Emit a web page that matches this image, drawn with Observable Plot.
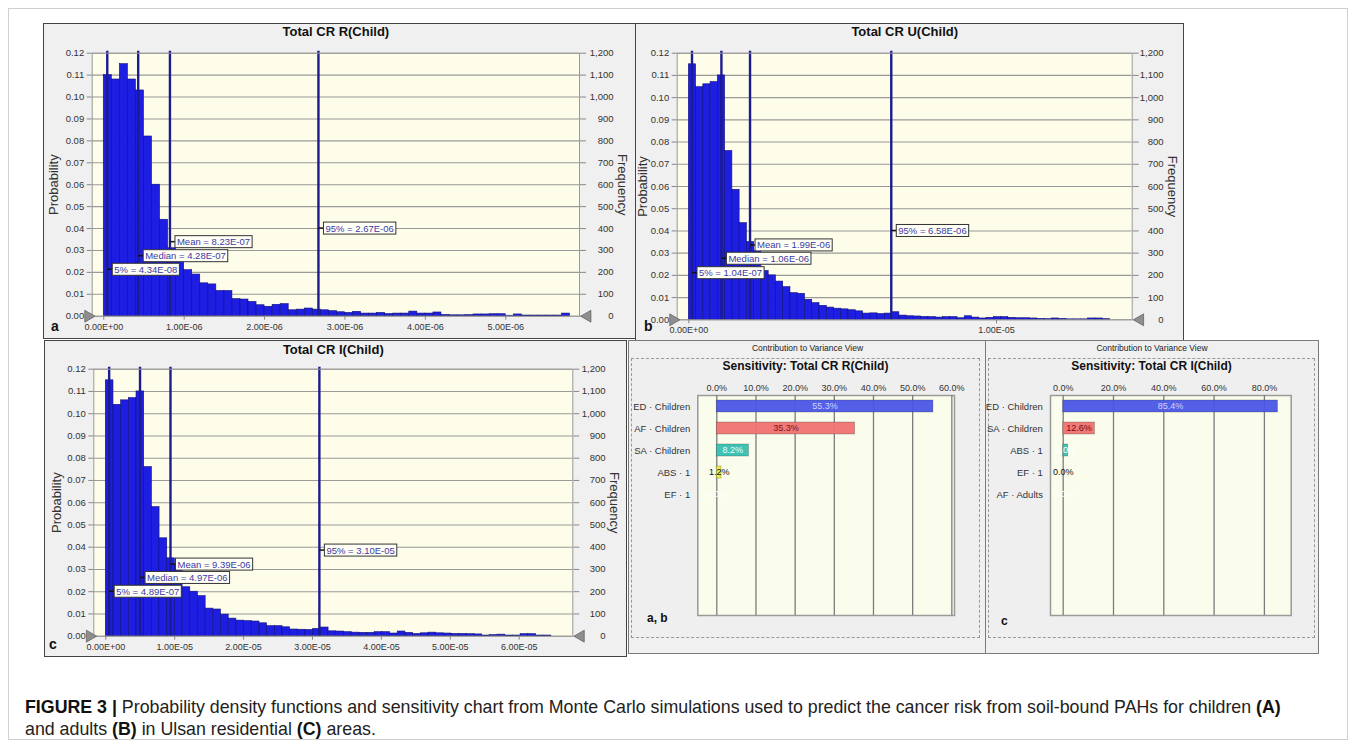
<!DOCTYPE html>
<html>
<head>
<meta charset="utf-8">
<script src="https://cdn.jsdelivr.net/npm/d3@7"></script>
<script src="https://cdn.jsdelivr.net/npm/@observablehq/plot@0.6"></script>
<style>
  body { margin: 0; background: #fff; font-family: "Liberation Sans", Arial, sans-serif; }
  #root { position: relative; width: 1356px; height: 748px; overflow: hidden; background: #fff; }
  .abs { position: absolute; }
  .box { position: absolute; box-sizing: border-box; background: #f0f0f0; }
  .plotwrap { position: absolute; }
  .plotwrap svg { display: block; overflow: visible; }
  .lett { position: absolute; font-weight: bold; color: #111; line-height: 1; }
  .caption { position: absolute; left: 25px; top: 695.5px; font-size: 17.8px; line-height: 22px; color: #222; white-space: nowrap; }
  .caption b { color: #111; }
</style>
</head>
<body>
<div id="root">
  <div class="abs" style="left:8px;top:8px;width:1340px;height:732px;border:1px solid #cfcfcf;box-sizing:border-box;"></div>
  <!-- panel boxes -->
  <div class="box" style="left:43px;top:23px;width:593px;height:316px;border:1px solid #444;"></div>
  <div class="box" style="left:635px;top:23px;width:549px;height:318px;border:1px solid #444;"></div>
  <div class="box" style="left:44px;top:340px;width:583px;height:317px;border:1px solid #444;"></div>
  <div class="box" style="left:628px;top:340px;width:359px;height:314px;border:1px solid #7a7a7a;"></div>
  <div class="box" style="left:631px;top:358px;width:349px;height:280px;border:1px dashed #999;background:#efefef;"></div>
  <div class="box" style="left:985px;top:340px;width:334px;height:314px;border:1px solid #7a7a7a;"></div>
  <div class="box" style="left:988px;top:358px;width:327px;height:280px;border:1px dashed #999;background:#efefef;"></div>

  <div id="histA" class="plotwrap" style="left:43px;top:23px;"></div>
  <div id="histB" class="plotwrap" style="left:635px;top:23px;"></div>
  <div id="histC" class="plotwrap" style="left:44px;top:340px;"></div>

  <div class="abs" style="left:628px;top:343px;width:359px;text-align:center;font-size:8.5px;color:#222;">Contribution to Variance View</div>
  <div class="abs" style="left:631px;top:359px;width:349px;text-align:center;font-size:12px;font-weight:bold;color:#111;">Sensitivity: Total CR R(Child)</div>
  <div class="abs" style="left:985px;top:343px;width:334px;text-align:center;font-size:8.5px;color:#222;">Contribution to Variance View</div>
  <div class="abs" style="left:988px;top:359px;width:327px;text-align:center;font-size:12px;font-weight:bold;color:#111;">Sensitivity: Total CR I(Child)</div>

  <div id="sensAB" class="plotwrap" style="left:631px;top:358px;"></div>
  <div id="sensC" class="plotwrap" style="left:988px;top:358px;"></div>

  <div class="lett" style="left:51px;top:319px;font-size:14px;">a</div>
  <div class="lett" style="left:644px;top:319px;font-size:14px;">b</div>
  <div class="lett" style="left:49px;top:637px;font-size:14px;">c</div>
  <div class="lett" style="left:647px;top:612px;font-size:12px;">a, b</div>
  <div class="lett" style="left:1001px;top:615px;font-size:12px;">c</div>

  <div class="caption"><b>FIGURE 3 |</b> Probability density functions and sensitivity chart from Monte Carlo simulations used to predict the cancer risk from soil-bound PAHs for children <b>(A)</b><br>and adults <b>(B)</b> in Ulsan residential <b>(C)</b> areas.</div>
</div>

<script>
// ---------------- DATA ----------------
const totalTrials = 10000;
const quantNames = ["5%", "Median", "Mean", "95%"];

// Panel a: Total CR R(Child)
const binWidthA = 1e-7;
const probA = [0.110, 0.108, 0.115, 0.108, 0.103, 0.082, 0.060, 0.044, 0.031, 0.025,
  0.021, 0.019, 0.015, 0.0145, 0.0115, 0.0115, 0.0078, 0.0076, 0.0065, 0.0050,
  0.0043, 0.0052, 0.0055, 0.0027, 0.0030, 0.0035, 0.0030, 0.0027, 0.0023, 0.0018,
  0.0015, 0.0020, 0.0012, 0.0012, 0.0015, 0.0010, 0.0012, 0.0012, 0.0021, 0.0012,
  0.0012, 0.0017, 0.0006, 0.0004, 0.0004, 0.0005, 0.0008, 0.0008, 0.0009, 0.0009,
  0.0002, 0.0008, 0.0003, 0.0003, 0.0003, 0.0003, 0.0003, 0.0012];
const quantA = [4.34e-8, 4.28e-7, 8.23e-7, 2.67e-6];
const xTicksA = [0, 1e-6, 2e-6, 3e-6, 4e-6, 5e-6];

// Panel b: Total CR U(Child)
const binWidthB = 2.36e-7;
const probB = [0.115, 0.1047, 0.106, 0.107, 0.110, 0.076, 0.0585, 0.0435, 0.035, 0.031,
  0.022, 0.020, 0.0172, 0.0147, 0.012, 0.0117, 0.009, 0.0075, 0.0063, 0.0055,
  0.0050, 0.0047, 0.0043, 0.0038, 0.0028, 0.0029, 0.0026, 0.0028, 0.0034, 0.0019,
  0.0016, 0.0015, 0.0013, 0.0012, 0.0010, 0.0012, 0.0012, 0.0007, 0.0016, 0.0010,
  0.0006, 0.0009, 0.0012, 0.0012, 0.0009, 0.0007, 0.0007, 0.0006, 0.0004, 0.0003,
  0.0006, 0.0004, 0.0002, 0.0002, 0.0002, 0.0006, 0.0006, 0.0003];
const quantB = [1.04e-7, 1.06e-6, 1.99e-6, 6.58e-6];
const xTicksB = [0, 1e-5];

// Panel c: Total CR I(Child)
const binWidthC = 1.115e-6;
const probC = [0.115, 0.104, 0.106, 0.107, 0.110, 0.076, 0.058, 0.044, 0.035, 0.032,
  0.022, 0.020, 0.018, 0.0124, 0.012, 0.0097, 0.0079, 0.0070, 0.0068, 0.0066,
  0.0058, 0.0045, 0.0045, 0.0040, 0.0030, 0.0029, 0.0028, 0.0033, 0.0039, 0.0022,
  0.0021, 0.0018, 0.0016, 0.0015, 0.0015, 0.0018, 0.0018, 0.0012, 0.0021, 0.0015,
  0.0010, 0.0013, 0.0016, 0.0013, 0.0012, 0.0010, 0.0010, 0.0009, 0.0008, 0.0003,
  0.0005, 0.0007, 0.0003, 0.0003, 0.0009, 0.0009, 0.0003, 0.0003];
const quantC = [4.89e-7, 4.97e-6, 9.39e-6, 3.10e-5];
const xTicksC = [0, 1e-5, 2e-5, 3e-5, 4e-5, 5e-5, 6e-5];

const probTicks = [0, 0.01, 0.02, 0.03, 0.04, 0.05, 0.06, 0.07, 0.08, 0.09, 0.10, 0.11, 0.12];

// Sensitivity: Total CR R(Child)
const sensNamesAB = ["ED · Children", "AF · Children", "SA · Children", "ABS · 1", "EF · 1"];
const sensValuesAB = [55.3, 35.3, 8.2, 1.2, 0.0];
const sensTicksAB = [0, 10, 20, 30, 40, 50, 60];

// Sensitivity: Total CR I(Child)
const sensNamesC = ["ED · Children", "SA · Children", "ABS · 1", "EF · 1", "AF · Adults"];
const sensValuesC = [85.4, 12.6, 2.0, 0.0, 0.0];
const sensTicksC = [0, 20, 40, 60, 80];

// ---------------- STYLE / LAYOUT ----------------
const sensColorsAB = ["#4a56e6", "#f07272", "#36bfb1", "#ecec44", "#9fb3e0"];
const sensLabelColorsAB = ["#d4d4ff", "#7a1515", "#eafffb", "#111111", "#ffffff"];
const sensColorsC = ["#4a56e6", "#f07272", "#36bfb1", "#ecec44", "#9fb3e0"];
const sensLabelColorsC = ["#d4d4ff", "#6a1010", "#ffffff", "#111111", "#ffffff"];

const fmtE = d => {
  const [m, e] = d.toExponential(2).split("e");
  const s = e[0] === "-" ? "-" : "+";
  return m + "E" + s + e.replace(/[-+]/, "").padStart(2, "0");
};
const fontFam = "'Liberation Sans', Arial, sans-serif";

function hist(o) {
  const bins = o.probs.map((p, i) => ({x1: i * o.binWidth, x2: (i + 1) * o.binWidth, p}));
  const q = quantNames.map((n, i) => ({name: n, value: o.quant[i], ly: o.labelY[i], text: `${n} = ${fmtE(o.quant[i])}`}));
  return Plot.plot({
    width: o.w, height: o.h,
    marginLeft: o.m[0], marginRight: o.m[1], marginTop: o.m[2], marginBottom: o.m[3],
    x: {domain: o.xDomain},
    y: {domain: [0, 0.12]},
    style: {fontFamily: fontFam, fontSize: "9.5px", color: "#333", background: "transparent", overflow: "visible"},
    marks: [
      Plot.frame({fill: "#fdfdea", stroke: null}),
      Plot.gridY(probTicks, {stroke: "#9a9a9a", strokeOpacity: 1, strokeWidth: 1.1}),
      Plot.rectY(bins, {x1: "x1", x2: "x2", y: "p", fill: "#1e1ee2", stroke: "#10107a", strokeWidth: 0.6}),
      Plot.ruleX(q, {x: "value", stroke: "#1c1c8e", strokeWidth: 2.4, insetTop: -2}),
      Plot.frame({stroke: "#9a9a9a"}),
      Plot.axisY(probTicks, {anchor: "left", tickSize: 5, tickPadding: 3, tickFormat: d => d.toFixed(2), label: null, stroke: "#888", fill: "#333", fontSize: 9.5}),
      Plot.axisY(probTicks, {anchor: "right", tickSize: 6, tickPadding: o.rightPad, textAnchor: "end", tickFormat: d => d3.format(",")(Math.round(d * totalTrials)), label: null, stroke: "#888", fill: "#333", fontSize: 9.5}),
      Plot.axisX(o.xTicks, {anchor: "bottom", tickSize: 4, tickPadding: 3, tickFormat: fmtE, label: null, stroke: "#888", fill: "#333", fontSize: 9}),
      Plot.dot([0], {frameAnchor: "bottom-left", symbol: "triangle", r: 4.4, rotate: 90, dx: -4, fill: "#8e8e8e", stroke: "#666", strokeWidth: 0.8}),
      Plot.dot([0], {frameAnchor: "bottom-right", symbol: "triangle", r: 4.4, rotate: -90, dx: 8, fill: "#8e8e8e", stroke: "#666", strokeWidth: 0.8}),
      Plot.text(q, {x: "value", y: "ly", text: "text", textAnchor: "start", dx: 7, fill: "#3a3aa6", fontSize: 9.5}),
      Plot.text([o.title], {frameAnchor: "top", lineAnchor: "middle", dy: o.titleDy, fontWeight: "bold", fontSize: 13, fill: "#111"}),
      Plot.text(["Probability"], {frameAnchor: "left", textAnchor: "middle", lineAnchor: "middle", rotate: -90, dx: o.probDx, fontSize: 13, fill: "#333"}),
      Plot.text(["Frequency"], {frameAnchor: "right", textAnchor: "middle", lineAnchor: "middle", rotate: 90, dx: o.freqDx, fontSize: 13, fill: "#333"})
    ]
  });
}

function boxLabels(svg) {
  const ns = "http://www.w3.org/2000/svg";
  svg.querySelectorAll("text").forEach(t => {
    if (!/ = /.test(t.textContent)) return;
    const bb = t.getBBox();
    const r = document.createElementNS(ns, "rect");
    r.setAttribute("x", bb.x - 2);
    r.setAttribute("y", bb.y - 0.5);
    r.setAttribute("width", bb.width + 4);
    r.setAttribute("height", bb.height + 1);
    r.setAttribute("fill", "#fffff6");
    r.setAttribute("stroke", "#333");
    r.setAttribute("stroke-width", "1");
    const l = document.createElementNS(ns, "line");
    l.setAttribute("x1", bb.x - 7);
    l.setAttribute("x2", bb.x - 2);
    l.setAttribute("y1", bb.y + bb.height / 2);
    l.setAttribute("y2", bb.y + bb.height / 2);
    l.setAttribute("stroke", "#111");
    l.setAttribute("stroke-width", "1.5");
    const tr = t.getAttribute("transform");
    if (tr) { r.setAttribute("transform", tr); l.setAttribute("transform", tr); }
    t.parentNode.insertBefore(r, t);
    t.parentNode.insertBefore(l, r);
  });
}

function sens(o) {
  const rows = o.names.map((n, i) => ({name: n, value: o.values[i], color: o.colors[i], lc: o.labelColors[i]}));
  return Plot.plot({
    width: o.w, height: o.h,
    marginLeft: o.m[0], marginRight: o.m[1], marginTop: o.m[2], marginBottom: o.m[3],
    x: {domain: o.xDomain},
    y: {domain: o.names, range: [37, 147], paddingInner: 0.47, paddingOuter: 0.235, align: 0.5},
    color: {type: "identity"},
    style: {fontFamily: fontFam, fontSize: "9.5px", color: "#333", background: "transparent", overflow: "visible"},
    marks: [
      Plot.frame({fill: "#fbfdec", stroke: "#9a9a9a", strokeWidth: 1.5}),
      Plot.gridX(o.ticks, {stroke: "#7c7c7c", strokeOpacity: 1, strokeWidth: 1.3}),
      Plot.barX(rows, {x: "value", y: "name", fill: "color", stroke: "#333", strokeOpacity: 0.35, strokeWidth: 0.8, fillOpacity: 0.95}),
      Plot.text(rows, {x: d => d.value / 2, y: "name", text: d => d.value.toFixed(1) + "%", fill: "lc", fontSize: 9}),
      Plot.axisX(o.ticks, {anchor: "top", tickSize: 0, tickPadding: 5, tickFormat: d => d.toFixed(1) + "%", label: null, fill: "#333", fontSize: 9}),
      Plot.axisY({anchor: "left", tickSize: 0, tickPadding: 7.6, label: null, fill: "#333", fontSize: 9.5})
    ]
  });
}

// ---------------- RENDER ----------------
const histSpecs = [
  {id: "histA", probs: probA, binWidth: binWidthA, quant: quantA, labelY: [0.0212, 0.0274, 0.0338, 0.0400],
   xTicks: xTicksA, xDomain: [-0.144e-6, 5.917e-6], title: "Total CR R(Child)",
   w: 592, h: 315, m: [48.7, 56, 29.7, 22.3], rightPad: 28, titleDy: -21, probDx: -38.4, freqDx: 42.7},
  {id: "histB", probs: probB, binWidth: binWidthB, quant: quantB, labelY: [0.0210, 0.0275, 0.0335, 0.0400],
   xTicks: xTicksB, xDomain: [-0.377e-6, 14.41e-6], title: "Total CR U(Child)",
   w: 548, h: 317, m: [41.7, 51.3, 29.7, 20.7], rightPad: 25.3, titleDy: -21, probDx: -34.4, freqDx: 40},
  {id: "histC", probs: probC, binWidth: binWidthC, quant: quantC, labelY: [0.0200, 0.0262, 0.0322, 0.0385],
   xTicks: xTicksC, xDomain: [-0.174e-5, 6.778e-5], title: "Total CR I(Child)",
   w: 582, h: 316, m: [49.3, 53.7, 28.7, 20.3], rightPad: 26.7, titleDy: -19, probDx: -37.3, freqDx: 41}
];
for (const s of histSpecs) {
  const svg = hist(s);
  document.getElementById(s.id).append(svg);
  boxLabels(svg);
}

document.getElementById("sensAB").append(sens({
  names: sensNamesAB, values: sensValuesAB, colors: sensColorsAB, labelColors: sensLabelColorsAB,
  ticks: sensTicksAB, xDomain: [-4.85, 60.68], w: 348, h: 279, m: [66.3, 25, 37, 22]
}));
document.getElementById("sensC").append(sens({
  names: sensNamesC, values: sensValuesC, colors: sensColorsC, labelColors: sensLabelColorsC,
  ticks: sensTicksC, xDomain: [-5.05, 90.66], w: 326, h: 279, m: [62, 23.3, 37, 22]
}));
</script>
</body>
</html>
